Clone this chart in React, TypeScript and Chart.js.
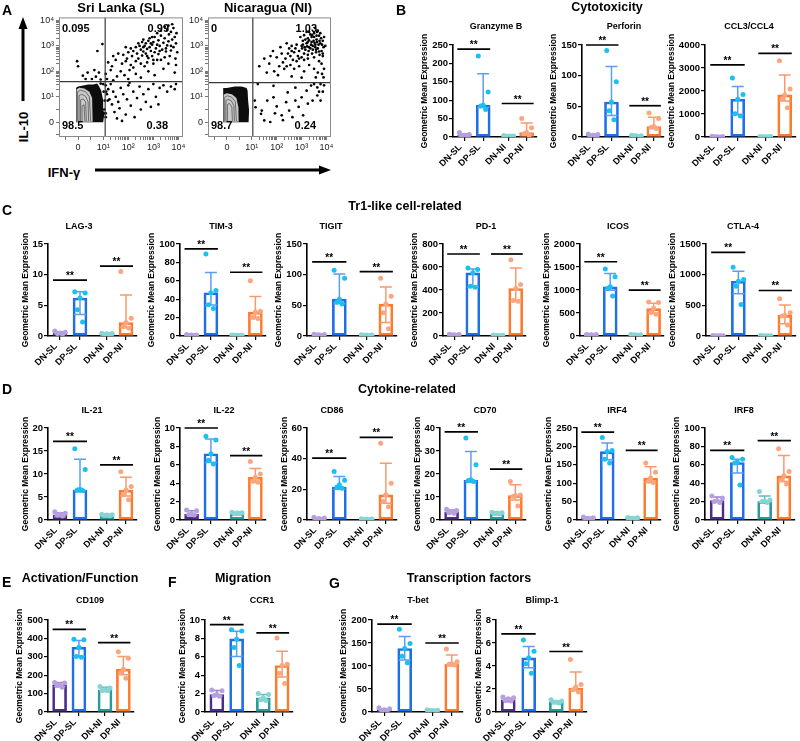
import React, { useEffect, useRef } from 'react';
import { Chart, registerables } from 'chart.js';

Chart.register(...registerables);

const FONT = "'Liberation Sans', Arial, Helvetica, sans-serif";
Chart.defaults.font.family = FONT;
Chart.defaults.color = '#000';

// ---------------- shared categories ----------------
const GROUPS = ['DN-SL', 'DP-SL', 'DN-NI', 'DP-NI'];
const GROUP_POS = [0, 1, 2.35, 3.3];
const Y_TITLE = 'Geometric Mean Expression';
const BAR_COLORS = ['#4b2e86', '#1f6fe8', '#2b9a9a', '#ff7a2c'];
const DOT_COLORS = ['#b6a0e0', '#1bbff0', '#86d5d4', '#fca680'];
const ERR_COLORS = ['#9a83cf', '#5c9ef0', '#5cbfbe', '#f99a6a'];
const JITTER = [-0.26, 0.26, 0, -0.13, 0.13];

// ---------------- B: Cytotoxicity ----------------
const GZMB_MED = [4, 86, 3, 12];
const GZMB_Q1 = [2, 80, 2, 6];
const GZMB_Q3 = [8, 172, 3.5, 38];
const GZMB_PTS = [[12, 7, 5, 3, 2], [220, 122, 86, 84, 75], [4, 3, 3, 2, 2], [50, 25, 12, 9, 5]];
const GZMB_SIG = [239, 91];

const PRF_MED = [3, 57, 2, 17];
const PRF_Q1 = [2, 35, 1.5, 14];
const PRF_Q3 = [4, 115, 2.5, 32];
const PRF_PTS = [[5, 4, 3, 2, 2], [141, 90, 57, 43, 28], [3, 2, 2, 2, 1], [39, 30, 17, 16, 14]];
const PRF_SIG = [150, 51];

const CCL_MED = [15, 1640, 15, 1834];
const CCL_Q1 = [10, 980, 10, 1560];
const CCL_Q3 = [25, 2195, 20, 2700];
const CCL_PTS = [[30, 20, 15, 10, 5], [2570, 1850, 1640, 1010, 910], [25, 20, 15, 10, 8], [3320, 2090, 1834, 1660, 1270]];
const CCL_SIG = [3133, 3640];

// ---------------- C: Tr1-like ----------------
const LAG3_MED = [0.5, 6.2, 0.35, 2.2];
const LAG3_Q1 = [0.35, 3.5, 0.3, 1.4];
const LAG3_Q3 = [0.7, 7.2, 0.42, 6.7];
const LAG3_PTS = [[0.8, 0.6, 0.5, 0.4, 0.3], [7.2, 7.0, 6.2, 4.3, 2.3], [0.45, 0.4, 0.35, 0.3, 0.3], [10.5, 2.9, 2.2, 1.5, 1.3]];
const LAG3_SIG = [9.1, 11.4];

const TIM3_MED = [1, 47, 0.8, 26];
const TIM3_Q1 = [0.7, 33.6, 0.6, 19];
const TIM3_Q3 = [1.3, 69, 1.0, 43];
const TIM3_PTS = [[1.5, 1.2, 1, 0.8, 0.5], [89, 49.5, 47, 34, 30], [1.1, 0.9, 0.8, 0.7, 0.6], [60, 27, 26, 20, 19]];
const TIM3_SIG = [94.6, 69.3];

const TIGIT_MED = [2, 60, 1.5, 52];
const TIGIT_Q1 = [1.5, 53, 1, 22];
const TIGIT_Q3 = [2.5, 101, 2, 80];
const TIGIT_PTS = [[3, 2.5, 2, 1.5, 1], [107, 94, 60, 55, 52], [2.2, 1.8, 1.5, 1.2, 1], [94, 65, 52, 38, 12]];
const TIGIT_SIG = [121, 105];

const PD1_MED = [10, 549, 5, 413];
const PD1_Q1 = [6, 427, 4, 303];
const PD1_Q3 = [13, 583, 7, 592];
const PD1_PTS = [[15, 12, 10, 8, 5], [592, 578, 549, 433, 424], [8, 6, 5, 4, 3], [664, 448, 413, 309, 303]];
const PD1_SIG = [713, 713];

const ICOS_MED = [25, 1069, 25, 596];
const ICOS_Q1 = [20, 996, 20, 494];
const ICOS_Q3 = [30, 1360, 30, 712];
const ICOS_PTS = [[35, 30, 25, 20, 15], [1454, 1287, 1069, 1040, 872], [32, 28, 25, 22, 18], [740, 727, 603, 509, 472]];
const ICOS_SIG = [1614, 996];

const CTLA4_MED = [5, 893, 5, 336];
const CTLA4_Q1 = [3, 688, 3, 200];
const CTLA4_Q3 = [8, 1056, 8, 504];
const CTLA4_PTS = [[8, 6, 5, 4, 3], [1121, 920, 893, 812, 514], [8, 6, 5, 4, 3], [606, 379, 336, 325, 179]];
const CTLA4_SIG = [1365, 742];

// ---------------- D: Cytokine-related ----------------
const IL21_MED = [1.1, 6.5, 1.1, 6.5];
const IL21_Q1 = [0.75, 6.4, 0.95, 5.2];
const IL21_Q3 = [1.6, 13.2, 1.2, 9.3];
const IL21_PTS = [[1.8, 1.45, 1.24, 1.1, 0.87], [15.5, 11, 6.7, 6.5, 6.4], [1.25, 1.15, 1.1, 1.0, 0.95], [10.5, 7.3, 6.5, 5.5, 4.4]];
const IL21_SIG = [17.1, 12.0];

const IL22_MED = [0.65, 7.2, 0.75, 4.65];
const IL22_Q1 = [0.55, 6.25, 0.7, 4.1];
const IL22_Q3 = [1.0, 8.8, 0.82, 5.6];
const IL22_PTS = [[1.09, 1.0, 0.65, 0.6, 0.55], [9.1, 8.7, 7.2, 6.5, 6.1], [0.85, 0.8, 0.75, 0.72, 0.7], [6.36, 5.0, 4.65, 4.2, 4.1]];
const IL22_SIG = [10.0, 7.0];

const CD86_MED = [1, 21.4, 0.5, 16.4];
const CD86_Q1 = [0.6, 20, 0.3, 10.9];
const CD86_Q3 = [1.4, 28.4, 0.7, 37];
const CD86_PTS = [[1.8, 1.3, 1, 0.7, 0.5], [31.6, 26, 23, 21.4, 20.7], [0.8, 0.6, 0.5, 0.4, 0.3], [50, 24, 16.4, 12, 8.7]];
const CD86_SIG = [40.4, 53.9];

const CD70_MED = [3.6, 17.2, 3.0, 10.6];
const CD70_Q1 = [3.2, 16.7, 2.8, 8.7];
const CD70_Q3 = [4.4, 29.8, 3.3, 15.3];
const CD70_PTS = [[4.7, 4.1, 3.6, 3.2, 2.9], [35.6, 24, 17.5, 17.2, 16.7], [3.4, 3.2, 3.0, 2.9, 2.8], [16.7, 10.9, 10.6, 10.2, 6.1]];
const CD70_SIG = [38.3, 22.1];

const IRF4_MED = [5, 186, 5, 114];
const IRF4_Q1 = [3, 164, 3, 102];
const IRF4_Q3 = [7, 209, 7, 145];
const IRF4_PTS = [[8, 6, 5, 4, 3], [224, 189, 186, 165, 155], [7, 6, 5, 4, 3], [155, 130, 114, 105, 102]];
const IRF4_SIG = [239, 189];

const IRF8_MED = [21, 62.5, 20, 48];
const IRF8_Q1 = [19.5, 51, 19, 41.8];
const IRF8_Q3 = [25, 66, 26, 70];
const IRF8_PTS = [[26, 24, 21, 20, 19], [68, 66, 63, 62, 38], [31, 21.8, 20.7, 20, 19], [77.5, 52.7, 48, 43.6, 39]];
const IRF8_SIG = [75.6, 86.2];

// ---------------- E / F / G ----------------
const CD109_MED = [148, 352, 121, 233];
const CD109_Q1 = [139, 301, 116, 202];
const CD109_Q3 = [161, 388, 135, 301];
const CD109_PTS = [[160, 157, 148, 143, 134], [395, 392, 352, 301, 298], [139, 130, 121, 117, 115], [328, 292, 233, 215, 184]];
const CD109_SIG = [449, 377];

const CCR1_MED = [1.9, 7.94, 1.55, 5.05];
const CCR1_Q1 = [1.73, 6.03, 1.26, 3.8];
const CCR1_Q3 = [2.35, 8.77, 1.9, 6.6];
const CCR1_PTS = [[2.4, 2.3, 1.9, 1.8, 1.7], [8.95, 8.8, 7.9, 7.0, 5.05], [2.0, 1.9, 1.55, 1.34, 1.26], [8.05, 5.2, 5.05, 4.2, 3.1]];
const CCR1_SIG = [9.5, 8.6];

const TBET_MED = [5, 138, 3, 104];
const TBET_Q1 = [3, 113, 2, 102];
const TBET_Q3 = [7, 164, 4, 124];
const TBET_PTS = [[9, 7, 5, 4, 3], [180, 149, 138, 121, 107], [5, 4, 3, 3, 2], [137, 109, 105, 104, 102]];
const TBET_SIG = [191, 150];

const BLIMP_MED = [1.05, 4.71, 0.87, 2.08];
const BLIMP_Q1 = [0.97, 3.84, 0.8, 1.88];
const BLIMP_Q3 = [1.2, 5.69, 0.95, 3.47];
const BLIMP_PTS = [[1.3, 1.24, 1.16, 1.01, 0.95], [6.27, 5.29, 4.71, 4.19, 3.38], [1.07, 0.95, 0.87, 0.87, 0.78], [4.56, 2.4, 2.17, 1.93, 1.73]];
const BLIMP_SIG = [6.79, 5.26];

// ---------------- A: flow cytometry (values in display decades) ----------------
const FLOW_TICK_LABELS = ['0', '10¹', '10²', '10³', '10⁴'];
const SL_PCT = ['0.095', '0.99', '98.5', '0.38'];
const NI_PCT = ['0', '1.03', '98.7', '0.24'];
const SL_GATE = [1.08, 1.6];
const NI_GATE = [1.04, 1.56];

const SL_DOTS = [
  [3.55, 3.62], [3.7, 3.55], [3.62, 3.45], [3.85, 3.35], [3.3, 3.4], [3.15, 3.5], [2.95, 3.35], [3.45, 3.3], [3.75, 3.25],
  [2.6, 3.25], [2.8, 3.2], [3.0, 3.15], [3.2, 3.22], [3.4, 3.12], [3.6, 3.18], [3.9, 3.1], [2.4, 3.1], [2.95, 3.05], [3.25, 3.0], [3.55, 3.02], [3.8, 2.95],
  [1.9, 2.95], [2.1, 2.9], [2.3, 2.95], [2.5, 2.85], [2.65, 3.0], [2.75, 2.88], [2.9, 2.8], [3.1, 2.9], [3.35, 2.85], [3.5, 2.78], [3.7, 2.82], [3.95, 2.75], [2.2, 2.8], [2.45, 3.0], [2.85, 2.95], [3.05, 2.75],
  [1.4, 2.6], [1.6, 2.7], [1.8, 2.65], [2.0, 2.75], [2.15, 2.6], [2.35, 2.7], [2.55, 2.62], [2.7, 2.7], [2.95, 2.6], [3.2, 2.68], [3.45, 2.55], [3.65, 2.6], [3.88, 2.5], [2.4, 2.5], [2.8, 2.52], [3.3, 2.45], [1.95, 2.5], [2.6, 2.78],
  [1.2, 2.35], [1.5, 2.45], [1.75, 2.3], [1.9, 2.4], [2.1, 2.25], [2.3, 2.4], [2.5, 2.3], [2.75, 2.35], [3.0, 2.3], [3.15, 2.45], [3.6, 2.3], [3.9, 2.25], [1.35, 2.2], [2.65, 2.2], [2.2, 2.15],
  [1.1, 1.9], [1.3, 2.05], [1.55, 1.8], [1.7, 2.0], [1.85, 1.85], [2.05, 2.05], [2.3, 1.9], [2.5, 1.75], [2.8, 2.0], [3.05, 1.85], [3.4, 2.1], [3.85, 1.95], [1.15, 1.7], [2.0, 1.7], [1.4, 1.65],
  [2.55, 3.15], [2.7, 3.1], [2.85, 3.3], [3.05, 3.35], [3.15, 3.05], [2.6, 2.95], [2.9, 3.1], [3.25, 2.8], [2.75, 2.6], [3.0, 2.45], [3.5, 2.9], [3.7, 3.0], [3.3, 3.6], [3.45, 3.75], [3.92, 3.5], [3.8, 3.7], [3.6, 3.8], [3.75, 3.85],
  [-0.04, 2.4], [0.0, 2.2], [0.77, 2.8], [0.97, 3.07], [0.38, 1.95], [0.19, 1.83], [0.71, 1.79], [0.83, 1.95], [0.55, 1.7], [0.9, 1.68], [0.3, 1.7], [0.65, 2.05],
  [1.1, 1.45], [1.2, 1.3], [1.3, 1.5], [1.15, 1.1], [1.25, 0.9], [1.4, 1.2], [1.35, 0.7], [1.5, 1.0], [1.45, 0.4], [1.6, 0.8], [1.7, 1.35], [1.65, 0.55], [1.8, 1.1], [1.9, 0.3], [1.95, 0.9], [2.0, 1.45], [2.1, 0.65], [2.2, 1.2], [2.25, 0.2], [2.35, 0.95], [2.45, 1.4], [2.5, 0.5], [2.6, 1.1], [2.7, 0.8], [2.8, 1.3], [2.9, 0.6], [3.0, 1.5], [3.1, 1.0], [3.25, 1.35], [3.4, 1.45], [3.55, 1.2], [3.7, 1.4], [3.85, 1.3], [3.9, 1.5], [1.05, 0.5], [1.1, 0.2], [1.55, 0.15], [2.05, 1.55], [3.2, 0.7], [1.75, 0.05], [1.12, 1.2], [1.18, 0.85], [1.1, 0.35],
  [1.02, 1.2], [1.06, 0.85], [1.04, 0.35], [1.0, 1.5], [0.9, 1.52],
];

const NI_DOTS = [
  [2.95, 3.35], [3.05, 3.2], [3.1, 3.42], [3.2, 3.1], [3.25, 3.3], [3.3, 2.95], [3.35, 3.45], [3.4, 3.15], [3.45, 2.85], [3.5, 3.35], [3.55, 3.05], [3.6, 3.25], [3.65, 2.9], [3.7, 3.4], [3.75, 3.1], [3.8, 2.8], [3.15, 2.85], [3.0, 3.0], [2.9, 2.8], [3.3, 3.22], [3.42, 2.7], [3.58, 2.75], [3.72, 2.65], [3.5, 3.5], [3.62, 3.55], [3.2, 3.55], [3.85, 3.2], [3.88, 2.95], [3.1, 2.7], [3.38, 3.05], [3.48, 3.2], [3.28, 2.8], [3.68, 3.05], [3.55, 2.95], [3.78, 3.3], [3.02, 2.9], [3.22, 2.98], [3.4, 3.35], [3.6, 3.4], [3.7, 2.78],
  [3.15, 3.25], [3.25, 3.15], [3.45, 3.0], [3.52, 3.12], [3.62, 3.15], [3.72, 3.2], [3.82, 3.05], [3.35, 2.9], [3.58, 2.85], [3.9, 3.35], [3.05, 3.05], [3.12, 2.95], [3.42, 3.42], [3.65, 3.6], [3.75, 3.5], [3.3, 3.55], [3.55, 3.7], [3.85, 2.7], [3.95, 3.0], [3.25, 2.65],
  [2.4, 3.1], [2.5, 2.9], [2.6, 3.0], [2.7, 2.75], [2.8, 3.05], [2.85, 2.6], [2.55, 2.6], [2.65, 2.45], [2.75, 2.9], [2.45, 2.7], [2.35, 2.5], [2.9, 2.5], [2.6, 2.8], [2.8, 2.4], [3.0, 2.55], [3.1, 2.45], [3.25, 2.5], [3.5, 2.55], [3.7, 2.4], [3.85, 2.6],
  [1.85, 2.8], [1.7, 2.3], [2.0, 2.55], [2.1, 2.2], [2.2, 2.7], [1.9, 2.0], [2.25, 2.35], [1.6, 1.95], [2.05, 1.85], [2.3, 2.1], [1.5, 2.5], [2.15, 2.95], [1.75, 2.6], [2.4, 2.2], [2.55, 2.25], [1.3, 2.2],
  [2.7, 2.1], [2.9, 2.2], [3.1, 2.0], [3.3, 2.25], [3.5, 2.1], [3.65, 1.95], [3.8, 2.3], [3.9, 2.1], [2.6, 1.8], [3.0, 1.75], [3.57, 1.76], [3.88, 1.76], [3.82, 1.9],
  [1.15, 0.59], [1.4, 0.46], [1.87, 0.98], [1.93, 0.35], [2.25, 0.08], [2.5, 0.46], [2.75, 0.85], [3.0, 0.98], [3.2, 1.24], [3.38, 1.44], [3.5, 1.5], [3.63, 1.37], [3.76, 1.5], [2.63, 0.2], [2.88, 0.6], [3.06, 0.27], [3.25, 0.73], [3.44, 0.85], [3.63, 1.05], [3.76, 0.85], [1.74, 0.01], [2.0, 0.62], [2.2, 0.27], [2.38, 0.79], [1.62, 0.85], [1.37, 0.33], [1.12, 0.85], [1.5, 0.07], [2.44, 1.17], [2.75, 1.36], [1.87, 1.43], [1.24, 1.5], [3.85, 1.2], [3.9, 1.45], [3.7, 1.2],
];

const SL_BLOB = [[-0.08, 0], [-0.08, 1.36], [0, 1.4], [0.2, 1.44], [0.4, 1.48], [0.6, 1.48], [0.76, 1.52], [0.84, 1.4], [0.92, 1.25], [0.96, 1.05], [1.0, 0.86], [1.0, 0.58], [1.04, 0.27], [1.0, 0]];
const SL_CORE = [[-0.06, 0.02], [-0.06, 1.3], [0.05, 1.36], [0.25, 1.33], [0.45, 1.2], [0.56, 0.95], [0.58, 0.02]];
const SL_CONTOURS = [
  [[-0.02, 0.05], [-0.02, 1.2], [0.1, 1.26], [0.3, 1.2], [0.45, 1.0], [0.5, 0.05]],
  [[0.04, 0.05], [0.04, 1.05], [0.14, 1.1], [0.3, 1.02], [0.4, 0.8], [0.42, 0.05]],
  [[0.1, 0.05], [0.1, 0.88], [0.2, 0.92], [0.3, 0.8], [0.33, 0.05]],
  [[0.16, 0.05], [0.16, 0.65], [0.24, 0.68], [0.27, 0.05]],
];
const NI_BLOB = [[-0.15, 0], [-0.15, 1.35], [-0.01, 1.35], [0.32, 1.4], [0.59, 1.4], [0.79, 1.35], [0.83, 1.25], [0.85, 0.86], [0.89, 0.47], [0.87, 0]];
const NI_CORE = [[-0.13, 0.02], [-0.13, 1.08], [-0.02, 1.14], [0.2, 1.1], [0.38, 0.95], [0.46, 0.6], [0.47, 0.02]];
const NI_CONTOURS = [
  [[-0.09, 0.05], [-0.09, 0.98], [0.02, 1.04], [0.2, 0.98], [0.34, 0.8], [0.38, 0.05]],
  [[-0.04, 0.05], [-0.04, 0.85], [0.05, 0.9], [0.18, 0.84], [0.28, 0.65], [0.3, 0.05]],
  [[0.02, 0.05], [0.02, 0.7], [0.1, 0.74], [0.2, 0.6], [0.22, 0.05]],
];

// ---------------- layout (positions only) ----------------
const ROW_B = { plotTop: 45, plotBottom: 137, titleY: 27 };
const ROW_C = { plotTop: 244, plotBottom: 336, titleY: 227 };
const ROW_D = { plotTop: 428, plotBottom: 520, titleY: 411 };
const ROW_E = { plotTop: 620, plotBottom: 712, titleY: 601 };

const PANELS = [
  { title: 'Granzyme B', med: GZMB_MED, q1: GZMB_Q1, q3: GZMB_Q3, pts: GZMB_PTS, sig: GZMB_SIG, ymax: 250, step: 50, row: ROW_B, axisX: 453, width: 84, titleX: 496 },
  { title: 'Perforin', med: PRF_MED, q1: PRF_Q1, q3: PRF_Q3, pts: PRF_PTS, sig: PRF_SIG, ymax: 150, step: 50, row: ROW_B, axisX: 582, width: 82, titleX: 624 },
  { title: 'CCL3/CCL4', med: CCL_MED, q1: CCL_Q1, q3: CCL_Q3, pts: CCL_PTS, sig: CCL_SIG, ymax: 4000, step: 1000, row: ROW_B, axisX: 705, width: 91, titleX: 749 },
  { title: 'LAG-3', med: LAG3_MED, q1: LAG3_Q1, q3: LAG3_Q3, pts: LAG3_PTS, sig: LAG3_SIG, ymax: 15, step: 5, row: ROW_C, axisX: 48, width: 89, titleX: 79 },
  { title: 'TIM-3', med: TIM3_MED, q1: TIM3_Q1, q3: TIM3_Q3, pts: TIM3_PTS, sig: TIM3_SIG, ymax: 100, step: 20, row: ROW_C, axisX: 180, width: 86, titleX: 221 },
  { title: 'TIGIT', med: TIGIT_MED, q1: TIGIT_Q1, q3: TIGIT_Q3, pts: TIGIT_PTS, sig: TIGIT_SIG, ymax: 150, step: 50, row: ROW_C, axisX: 307, width: 90, titleX: 331 },
  { title: 'PD-1', med: PD1_MED, q1: PD1_Q1, q3: PD1_Q3, pts: PD1_PTS, sig: PD1_SIG, ymax: 800, step: 200, row: ROW_C, axisX: 443, width: 83, titleX: 486 },
  { title: 'ICOS', med: ICOS_MED, q1: ICOS_Q1, q3: ICOS_Q3, pts: ICOS_PTS, sig: ICOS_SIG, ymax: 2000, step: 500, row: ROW_C, axisX: 580, width: 84, titleX: 618 },
  { title: 'CTLA-4', med: CTLA4_MED, q1: CTLA4_Q1, q3: CTLA4_Q3, pts: CTLA4_PTS, sig: CTLA4_SIG, ymax: 1500, step: 500, row: ROW_C, axisX: 706, width: 90, titleX: 743 },
  { title: 'IL-21', med: IL21_MED, q1: IL21_Q1, q3: IL21_Q3, pts: IL21_PTS, sig: IL21_SIG, ymax: 20, step: 5, row: ROW_D, axisX: 48, width: 89, titleX: 92 },
  { title: 'IL-22', med: IL22_MED, q1: IL22_Q1, q3: IL22_Q3, pts: IL22_PTS, sig: IL22_SIG, ymax: 10, step: 2, row: ROW_D, axisX: 180, width: 86, titleX: 224 },
  { title: 'CD86', med: CD86_MED, q1: CD86_Q1, q3: CD86_Q3, pts: CD86_PTS, sig: CD86_SIG, ymax: 60, step: 20, row: ROW_D, axisX: 307, width: 90, titleX: 332 },
  { title: 'CD70', med: CD70_MED, q1: CD70_Q1, q3: CD70_Q3, pts: CD70_PTS, sig: CD70_SIG, ymax: 40, step: 10, row: ROW_D, axisX: 440, width: 86, titleX: 485 },
  { title: 'IRF4', med: IRF4_MED, q1: IRF4_Q1, q3: IRF4_Q3, pts: IRF4_PTS, sig: IRF4_SIG, ymax: 250, step: 50, row: ROW_D, axisX: 577, width: 84, titleX: 617 },
  { title: 'IRF8', med: IRF8_MED, q1: IRF8_Q1, q3: IRF8_Q3, pts: IRF8_PTS, sig: IRF8_SIG, ymax: 100, step: 20, row: ROW_D, axisX: 705, width: 90, titleX: 744 },
  { title: 'CD109', med: CD109_MED, q1: CD109_Q1, q3: CD109_Q3, pts: CD109_PTS, sig: CD109_SIG, ymax: 500, step: 100, row: ROW_E, axisX: 48, width: 86, titleX: 90 },
  { title: 'CCR1', med: CCR1_MED, q1: CCR1_Q1, q3: CCR1_Q3, pts: CCR1_PTS, sig: CCR1_SIG, ymax: 10, step: 2, row: ROW_E, axisX: 205, width: 88, titleX: 262 },
  { title: 'T-bet', med: TBET_MED, q1: TBET_Q1, q3: TBET_Q3, pts: TBET_PTS, sig: TBET_SIG, ymax: 200, step: 50, row: ROW_E, axisX: 372, width: 91, titleX: 418 },
  { title: 'Blimp-1', med: BLIMP_MED, q1: BLIMP_Q1, q3: BLIMP_Q3, pts: BLIMP_PTS, sig: BLIMP_SIG, ymax: 8, step: 2, row: ROW_E, axisX: 496, width: 91, titleX: 542 },
];

const FLOWS = [
  { title: 'Sri Lanka (SL)', titleX: 121, frameLeft: 59, frameRight: 183, dots: SL_DOTS, blob: SL_BLOB, core: SL_CORE, contours: SL_CONTOURS, gate: SL_GATE, pct: SL_PCT },
  { title: 'Nicaragua (NI)', titleX: 268, frameLeft: 208, frameRight: 331, dots: NI_DOTS, blob: NI_BLOB, core: NI_CORE, contours: NI_CONTOURS, gate: NI_GATE, pct: NI_PCT },
];
const FLOW_TOP = 16;
const FLOW_BOTTOM = 137;
const FLOW_X_RANGE = [-0.76, 4.18];
const FLOW_Y_RANGE = [-0.58, 4.12];

function flowTickValues(): number[] {
  const v: number[] = [-0.5, 0, 0.5, 1, 2, 3, 4];
  for (let d = 1; d <= 3; d++) for (let k = 2; k <= 9; k++) v.push(d + Math.log10(k));
  return v.sort((a, b) => a - b);
}
function flowLabel(v: number): string {
  const r = Math.round(v);
  return Math.abs(v - r) < 1e-6 && r >= 0 && r <= 4 ? FLOW_TICK_LABELS[r] : '';
}

// ---------------- bar panel ----------------
function BarPanel({ p }: { p: any }) {
  const ref = useRef<HTMLCanvasElement | null>(null);
  const WY = 42, HX = 40, PAD_R = 6, TOP = 24;
  const left = p.axisX - WY;
  const top = p.row.plotTop - TOP;
  const width = WY + p.width + PAD_R;
  const height = p.row.plotBottom - top + HX;
  const digits = String(p.ymax).length;
  const yTitleOff = 13 + 5.3 * digits;
  const yTitlePad = Math.max(0, WY - yTitleOff - 4.25);

  useEffect(() => {
    const canvas = ref.current;
    if (!canvas) return;
    const overlay = {
      id: 'panelOverlay',
      afterDatasetDraw(chart: any, args: any) {
        if (args.index !== 0) return;
        const { ctx } = chart;
        const xs = chart.scales.x, ys = chart.scales.y;
        ctx.save();
        ctx.lineWidth = 1.5;
        GROUP_POS.forEach((gx, i) => {
          const x = xs.getPixelForValue(gx);
          const lo = ys.getPixelForValue(p.q1[i]);
          const hi = ys.getPixelForValue(p.q3[i]);
          ctx.strokeStyle = ERR_COLORS[i];
          ctx.beginPath();
          ctx.moveTo(x, lo); ctx.lineTo(x, hi);
          ctx.moveTo(x - 6, hi); ctx.lineTo(x + 6, hi);
          ctx.moveTo(x - 6, lo); ctx.lineTo(x + 6, lo);
          ctx.stroke();
        });
        ctx.restore();
      },
      afterDraw(chart: any) {
        const { ctx } = chart;
        const xs = chart.scales.x, ys = chart.scales.y;
        ctx.save();
        [[0, 1], [2, 3]].forEach(([a, b], k) => {
          const x0 = xs.getPixelForValue(GROUP_POS[a]) - 7;
          const x1 = xs.getPixelForValue(GROUP_POS[b]) + 7;
          const y = ys.getPixelForValue(p.sig[k]);
          ctx.strokeStyle = '#000';
          ctx.lineWidth = 1.7;
          ctx.beginPath(); ctx.moveTo(x0, y); ctx.lineTo(x1, y); ctx.stroke();
          ctx.fillStyle = '#000';
          ctx.font = `bold 10px ${FONT}`;
          ctx.textAlign = 'center';
          ctx.textBaseline = 'alphabetic';
          ctx.fillText('**', (x0 + x1) / 2, y - 1);
        });
        ctx.font = `bold 9px ${FONT}`;
        ctx.textAlign = 'center';
        ctx.textBaseline = 'middle';
        ctx.fillStyle = '#000';
        ctx.fillText(p.title, p.titleX - left, p.row.titleY - top);
        ctx.restore();
      },
    };

    const dots: any[] = [];
    const dotColors: string[] = [];
    p.pts.forEach((arr: number[], i: number) => {
      arr.forEach((v, j) => {
        dots.push({ x: GROUP_POS[i] + JITTER[j % JITTER.length], y: v });
        dotColors.push(DOT_COLORS[i]);
      });
    });

    const chart = new Chart(canvas, {
      type: 'bar',
      data: {
        datasets: [
          {
            type: 'bar',
            data: GROUP_POS.map((x, i) => ({ x, y: p.med[i] })),
            backgroundColor: 'rgba(255,255,255,0)',
            borderColor: BAR_COLORS,
            borderWidth: 2,
            borderSkipped: false,
            barThickness: 14,
            order: 2,
          } as any,
          {
            type: 'scatter',
            data: dots,
            pointRadius: 2.5,
            pointBackgroundColor: dotColors,
            pointBorderWidth: 0,
            pointHoverRadius: 2.5,
            order: 1,
          } as any,
        ],
      },
      options: {
        responsive: false,
        animation: false,
        events: [],
        layout: { padding: { top: TOP, right: PAD_R, left: 0, bottom: 0 } },
        plugins: { legend: { display: false }, tooltip: { enabled: false }, title: { display: false } },
        scales: {
          x: {
            type: 'linear',
            min: -0.6,
            max: 3.85,
            offset: false,
            afterFit: (s: any) => { s.height = HX; },
            afterBuildTicks: (s: any) => { s.ticks = GROUP_POS.map((v) => ({ value: v })); },
            ticks: {
              autoSkip: false,
              minRotation: 45,
              maxRotation: 45,
              padding: 1,
              labelOffset: -4,
              font: { size: 9, weight: 'bold' },
              color: '#000',
              callback: (_v: any, i: number) => GROUPS[i],
            },
            grid: { drawOnChartArea: false, drawTicks: true, tickLength: 4, color: '#000', lineWidth: 1.2, offset: false },
            border: { display: true, color: '#000', width: 1.6 },
          },
          y: {
            type: 'linear',
            min: 0,
            max: p.ymax,
            afterFit: (s: any) => { s.width = WY; },
            ticks: {
              stepSize: p.step,
              padding: 1,
              font: { size: 9.5, weight: 'bold' },
              color: '#000',
              callback: (v: any) => String(v),
            },
            grid: { drawOnChartArea: false, drawTicks: true, tickLength: 4, color: '#000', lineWidth: 1.2 },
            border: { display: true, color: '#000', width: 1.6 },
            title: {
              display: true,
              text: Y_TITLE,
              font: { size: 8.5, weight: 'bold' },
              color: '#000',
              padding: { top: yTitlePad, bottom: 0 },
            },
          },
        },
      } as any,
      plugins: [overlay],
    });
    return () => chart.destroy();
  }, [p]);

  return <canvas ref={ref} width={width} height={height} style={{ position: 'absolute', left, top, width, height }} />;
}

// ---------------- flow panel ----------------
function FlowPanel({ f }: { f: any }) {
  const ref = useRef<HTMLCanvasElement | null>(null);
  const WY = 26, HX = 24, PAD_T = 6, PAD_R = 10;
  const left = f.frameLeft - WY;
  const top = FLOW_TOP - PAD_T;
  const width = f.frameRight - left + PAD_R;
  const height = FLOW_BOTTOM - top + HX;

  useEffect(() => {
    const canvas = ref.current;
    if (!canvas) return;
    const poly = (chart: any, pts: number[][]) => {
      const xs = chart.scales.x, ys = chart.scales.y;
      const { ctx } = chart;
      ctx.beginPath();
      pts.forEach(([x, y], i) => {
        const px = xs.getPixelForValue(x), py = ys.getPixelForValue(y);
        if (i === 0) ctx.moveTo(px, py); else ctx.lineTo(px, py);
      });
    };
    const overlay = {
      id: 'flowOverlay',
      beforeDatasetsDraw(chart: any) {
        const { ctx } = chart;
        ctx.save();
        poly(chart, f.blob); ctx.closePath(); ctx.fillStyle = '#0d0d0d'; ctx.fill();
        poly(chart, f.core); ctx.closePath(); ctx.fillStyle = '#c9c9c9'; ctx.fill();
        ctx.strokeStyle = '#555'; ctx.lineWidth = 0.8;
        f.contours.forEach((c: number[][]) => { poly(chart, c); ctx.stroke(); });
        ctx.restore();
      },
      afterDatasetsDraw(chart: any) {
        const { ctx, chartArea: a } = chart;
        const xs = chart.scales.x, ys = chart.scales.y;
        ctx.save();
        const gx = xs.getPixelForValue(f.gate[0]);
        const gy = ys.getPixelForValue(f.gate[1]);
        ctx.strokeStyle = '#3a3a3a'; ctx.lineWidth = 1.2;
        ctx.beginPath();
        ctx.moveTo(gx, a.top); ctx.lineTo(gx, a.bottom);
        ctx.moveTo(a.left, gy); ctx.lineTo(a.right, gy);
        ctx.stroke();
        ctx.strokeStyle = '#8a8a8a'; ctx.lineWidth = 1;
        ctx.strokeRect(a.left + 0.5, a.top + 0.5, a.right - a.left - 1, a.bottom - a.top - 1);
        ctx.fillStyle = '#000';
        ctx.font = `bold 11px ${FONT}`;
        ctx.textBaseline = 'middle';
        ctx.textAlign = 'left';
        ctx.fillText(f.pct[0], a.left + 3, a.top + 12);
        ctx.fillText(f.pct[2], a.left + 3, a.bottom - 11);
        ctx.textAlign = 'right';
        ctx.fillText(f.pct[1], a.right - 14, a.top + 12);
        ctx.fillText(f.pct[3], a.right - 15, a.bottom - 11);
        ctx.restore();
      },
    };
    const ticks = flowTickValues();
    const axisCommon = {
      type: 'linear',
      afterBuildTicks: (s: any) => { s.ticks = ticks.map((v) => ({ value: v })); },
      grid: { drawOnChartArea: false, drawTicks: true, tickLength: 3, color: '#777', lineWidth: 1 },
      border: { display: false },
    };
    const chart = new Chart(canvas, {
      type: 'scatter',
      data: {
        datasets: [
          {
            data: f.dots.map(([x, y]: number[]) => ({ x, y })),
            pointRadius: 1.35,
            pointBackgroundColor: '#000',
            pointBorderWidth: 0,
            pointHoverRadius: 1.35,
          },
        ],
      },
      options: {
        responsive: false,
        animation: false,
        events: [],
        layout: { padding: { top: PAD_T, right: PAD_R, left: 0, bottom: 0 } },
        plugins: { legend: { display: false }, tooltip: { enabled: false } },
        scales: {
          x: {
            ...axisCommon,
            min: FLOW_X_RANGE[0],
            max: FLOW_X_RANGE[1],
            afterFit: (s: any) => { s.height = HX; },
            ticks: { autoSkip: false, maxRotation: 0, minRotation: 0, padding: 2, font: { size: 9 }, color: '#222', callback: (v: any) => flowLabel(Number(v)) },
          },
          y: {
            ...axisCommon,
            min: FLOW_Y_RANGE[0],
            max: FLOW_Y_RANGE[1],
            afterFit: (s: any) => { s.width = WY; },
            ticks: { autoSkip: false, padding: 2, font: { size: 9 }, color: '#222', callback: (v: any) => flowLabel(Number(v)) },
          },
        },
      } as any,
      plugins: [overlay],
    });
    return () => chart.destroy();
  }, [f]);

  return <canvas ref={ref} width={width} height={height} style={{ position: 'absolute', left, top, width, height }} />;
}

// ---------------- text helpers ----------------
function Label({ text, x, y, size, rotate, align }: { text: string; x: number; y: number; size: number; rotate?: number; align?: string }) {
  const tx = align === 'left' ? '0' : '-50%';
  return (
    <div
      style={{
        position: 'absolute',
        left: x,
        top: y,
        transform: `translate(${tx}, -50%)${rotate ? ` rotate(${rotate}deg)` : ''}`,
        transformOrigin: align === 'left' ? 'left center' : 'center center',
        fontSize: size,
        fontWeight: 'bold',
        lineHeight: 1,
        whiteSpace: 'nowrap',
        color: '#000',
      }}
    >
      {text}
    </div>
  );
}

const LETTERS = [
  { t: 'A', x: 2, y: 10 }, { t: 'B', x: 396, y: 10 }, { t: 'C', x: 2, y: 210 }, { t: 'D', x: 2, y: 389 },
  { t: 'E', x: 2, y: 582 }, { t: 'F', x: 168, y: 582 }, { t: 'G', x: 329, y: 583 },
];
const SECTIONS = [
  { t: 'Cytotoxicity', x: 607, y: 6.5 },
  { t: 'Tr1-like cell-related', x: 405, y: 206 },
  { t: 'Cytokine-related', x: 407, y: 389 },
  { t: 'Activation/Function', x: 80, y: 578 },
  { t: 'Migration', x: 243, y: 578 },
  { t: 'Transcription factors', x: 469, y: 578 },
];

export default function App() {
  return (
    <div style={{ position: 'fixed', left: 0, top: 0, width: 800, height: 741, overflow: 'hidden', background: '#fff', fontFamily: FONT }}>
      {FLOWS.map((f) => <FlowPanel key={f.title} f={f} />)}
      {PANELS.map((p) => <BarPanel key={p.title} p={p} />)}
      {FLOWS.map((f) => <Label key={'t' + f.title} text={f.title} x={f.titleX} y={7} size={13} />)}
      <Label text="IL-10" x={23} y={127} size={13} rotate={-90} />
      <Label text="IFN-γ" x={64} y={172} size={13} />
      <svg width={800} height={741} style={{ position: 'absolute', left: 0, top: 0, pointerEvents: 'none' }}>
        <line x1={23} y1={101} x2={23} y2={27} stroke="#000" strokeWidth={3} />
        <polygon points="23,17 18.5,29 27.5,29" fill="#000" />
        <line x1={95} y1={170} x2={321} y2={170} stroke="#000" strokeWidth={3} />
        <polygon points="331,170 319,165.5 319,174.5" fill="#000" />
      </svg>
      {LETTERS.map((l) => <Label key={l.t} text={l.t} x={l.x} y={l.y} size={14} align="left" />)}
      {SECTIONS.map((s) => <Label key={s.t} text={s.t} x={s.x} y={s.y} size={12.5} />)}
    </div>
  );
}
